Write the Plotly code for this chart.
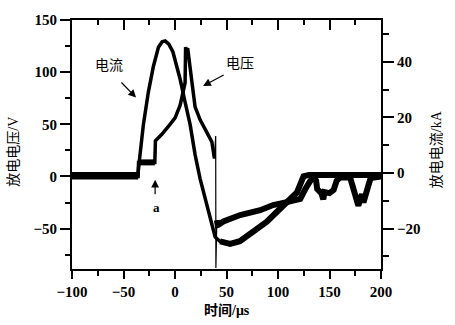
import plotly.graph_objects as go

# Discharge current (kA, right axis) versus time (µs)
t_current = [-100, -36.0, -35.6, -33.0, -30.7, -25.9, -21.0, -16.1, -12.5, -9.6, -6.0, -2.0,
             0.1, 5.0, 9.8, 14.7, 19.5, 24.4, 39.0, 43.8, 53.5, 63.0, 73.0, 81.0, 89.2,
             96.0, 102.1, 110.0, 118.4, 121.6, 124.8, 130.0, 200]
i_current = [-0.7, -0.7, 1.1, 10.0, 17.4, 29.0, 38.3, 45.2, 47.2, 47.5, 46.3, 43.5,
             40.6, 33.7, 25.5, 17.4, 6.6, -2.1, -23.0, -24.6, -25.5, -24.5, -22.0, -20.0, -17.5,
             -15.0, -12.8, -10.0, -7.0, -4.1, -1.2, -0.7, -0.7]

# Discharge voltage (V, left axis); None marks the fast transient drawn separately
t_voltage = [-100, -35.8, -35.4, -19.6, -19.0, -12.8, -6.4, 0.1, 5.0, 8.2, 9.8, 10.3, 11.3,
             12.3, 13.5, 16.3, 19.5, 24.4, 30.9, 35.8, 38.3, 39.5,
             40.6, 41.5, 42.2, 47.0, 63.3, 82.7, 95.3, 108.6, 121.6, 126.4, 131.3, 135.0,
             137.0, 138.0, 142.0, 144.0, 145.0, 150.0, 154.0, 157.0, 160.0, 170.0, 175.0,
             178.0, 181.5, 183.0, 187.6, 190.0, 200]
v_voltage = [0, 0, 13.5, 13.5, 34.2, 40.4, 48.1, 56.2, 68.3, 80.6, 89.9, 124.0, 120.0,
             123.0, 112.0, 91.5, 66.7, 54.3, 42.3, 33.0, 17.2, None,
             -42.0, -46.5, -46.3, -43.2, -37.0, -32.3, -27.4, -24.6, -21.5, -12.3, -4.2, -1.0,
             -4.0, -12.0, -16.0, -22.0, -15.0, -16.0, -13.0, -4.0, -1.0, -1.0, -18.0,
             -28.0, -17.0, -25.0, -9.0, -1.5, 0]

# Fast voltage transient at breakdown
t_spike = [38.3, 39.5, 39.7, 40.6]
v_spike = [17.2, 38.8, -87.8, -42.0]

x_ticks = [-100, -50, 0, 50, 100, 150, 200]
v_ticks = [-50, 0, 50, 100, 150]
i_ticks = [-20, 0, 20, 40]

SERIF = "Liberation Serif, Noto Sans CJK SC"
tick_font = dict(family=SERIF, size=15, color="black", weight="bold")


def window(ts, ys, lo, hi):
    """Samples whose time lies in [lo, hi]."""
    pairs = [(t, y) for t, y in zip(ts, ys) if lo <= t <= hi]
    return [p[0] for p in pairs], [p[1] for p in pairs]


fig = go.Figure()


def add_line(ts, ys, width, xa, ya):
    fig.add_trace(go.Scatter(x=ts, y=ys, mode="lines", connectgaps=False,
                             line=dict(color="black", width=width),
                             xaxis=xa, yaxis=ya, showlegend=False, hoverinfo="skip"))


# full traces
add_line(t_voltage, v_voltage, 3.5, "x", "y")
add_line(t_spike, v_spike, 1.2, "x", "y")
add_line(t_current, i_current, 3.5, "x2", "y2")

# noisy stretches of the records appear as wider bands
for lo, hi in [(-100, -35.8), (-35.4, -19.6), (40.6, 200)]:
    tt, vv = window(t_voltage, v_voltage, lo, hi)
    add_line(tt, vv, 6, "x", "y")
for lo, hi in [(-100, -36.0), (43.8, 200)]:
    tt, ii = window(t_current, i_current, lo, hi)
    add_line(tt, ii, 6, "x2", "y2")

axis_common = dict(showgrid=False, zeroline=False, showline=True, linecolor="black",
                   linewidth=2, tickcolor="black", tickwidth=2, tickfont=tick_font)

fig.update_layout(
    width=455, height=325,
    margin=dict(l=72, r=74, t=12, b=56),
    paper_bgcolor="white", plot_bgcolor="white",
    xaxis=dict(range=[-100, 200], tickvals=x_ticks, ticks="outside", ticklen=8,
               minor=dict(dtick=25, tick0=0, ticks="outside", ticklen=5, tickwidth=2,
                          tickcolor="black"),
               anchor="y", **axis_common),
    xaxis2=dict(range=[-100, 200], tickvals=x_ticks, ticks="inside", ticklen=10,
                side="top", overlaying="x", anchor="y2", showticklabels=False,
                minor=dict(dtick=25, tick0=0, ticks="inside", ticklen=5, tickwidth=2,
                           tickcolor="black"),
                **axis_common),
    yaxis=dict(range=[-88.7, 150], tickvals=v_ticks, ticks="outside", ticklen=10,
               minor=dict(dtick=25, tick0=0, ticks="outside", ticklen=5, tickwidth=2,
                          tickcolor="black"),
               anchor="x", **axis_common),
    yaxis2=dict(range=[-34.5, 55], tickvals=i_ticks, ticks="outside", ticklen=11,
                side="right", overlaying="y", anchor="x2",
                minor=dict(dtick=10, tick0=0, ticks="outside", ticklen=6, tickwidth=2,
                           tickcolor="black"),
                **axis_common),
)

label_font = dict(family=SERIF, size=14, color="black")
centered = dict(xanchor="center", yanchor="middle", showarrow=False)
arrow = dict(text="", showarrow=True, arrowhead=2, arrowsize=1.3, arrowwidth=1.2,
             arrowcolor="black", xref="x", yref="y", axref="x", ayref="y")
annotations = [
    # curve labels with pointer arrows
    dict(x=-64.0, y=106.3, xref="x", yref="y", text="电流", font=label_font, **centered),
    dict(x=-37.8, y=75.7, ax=-53.4, ay=91.5, **arrow),
    dict(x=63.3, y=108.2, xref="x", yref="y", text="电压", font=label_font, **centered),
    dict(x=27.3, y=86.8, ax=48.7, ay=98.0, **arrow),
    dict(x=-17.7, y=-29.5, xref="x", yref="y", text="a",
         font=dict(family=SERIF, size=13, color="black", weight="bold"), **centered),
    dict(x=-19.3, y=-3.2, ax=-19.3, ay=-18.5, **arrow),
    # axis titles
    dict(x=-0.188, y=0.471, xref="paper", yref="paper", text="放电电压/V", textangle=-90,
         font=label_font, **centered),
    dict(x=1.182, y=0.482, xref="paper", yref="paper", text="放电电流/kA", textangle=-90,
         font=label_font, **centered),
    dict(x=0.502, y=-0.167, xref="paper", yref="paper", text="时间/μs",
         font=dict(family=SERIF, size=14, color="black", weight="bold"), **centered),
]
fig.update_layout(annotations=annotations)

fig.write_html("out.html")
